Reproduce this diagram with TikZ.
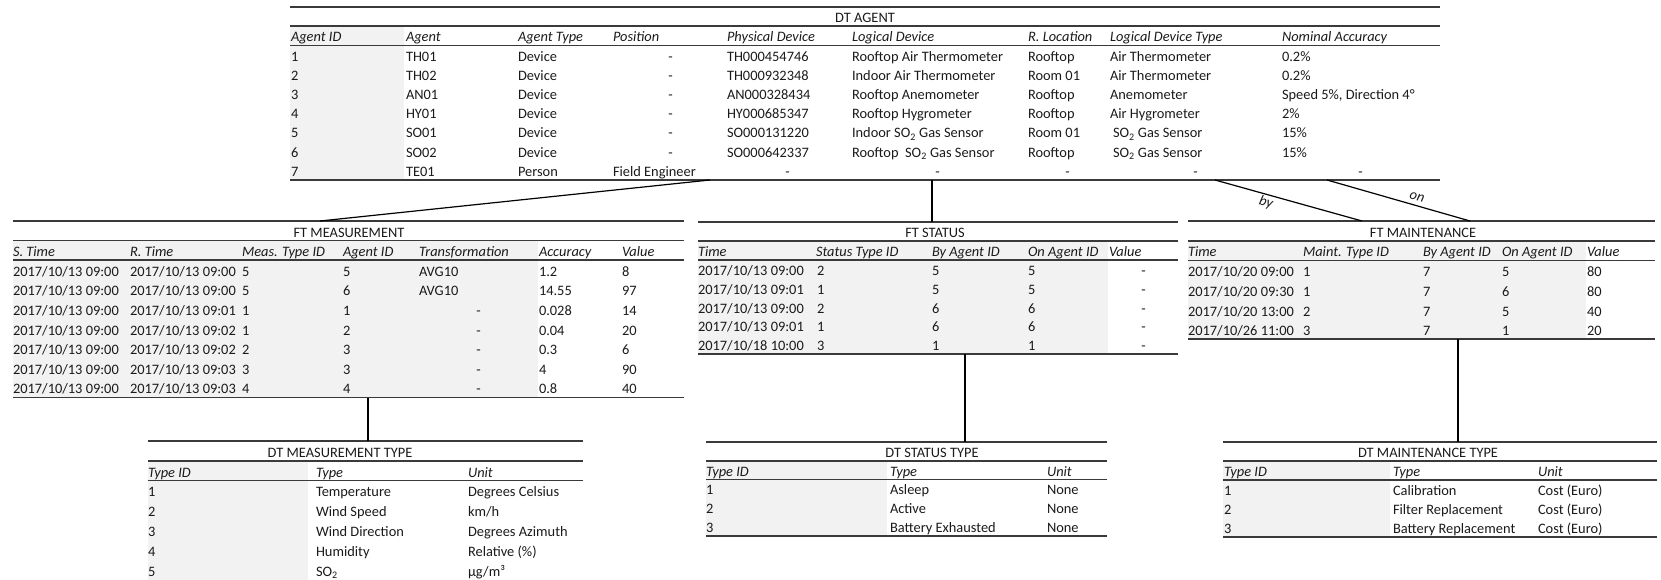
\documentclass[tikz,border=0pt]{standalone}
\usepackage{fontspec}
\setmainfont{Carlito}
\definecolor{ink}{HTML}{1A1A1A}
\definecolor{rulegray}{HTML}{3A3A3A}
\definecolor{cellgray}{HTML}{F2F2F2}

% centred dash inside a left-anchored cell
\newcommand\ctrdash{\makebox[0pt]{-}}

% table frame: name, left, right, top, row height, data rows, shaded right edge, title x, title
\newcommand\dbtable[9]{%
  \def\tbtop{#4}\def\tbh{#5}%
  \pgfmathsetmacro\tbbot{#4+(#6+2)*#5}%
  \pgfmathsetmacro\tbA{#4+#5}%
  \pgfmathsetmacro\tbB{#4+2*#5}%
  \pgfmathsetmacro\tbT{#4+#5-3.5}%
  \fill[shade] (#2,\tbA) rectangle (#7,\tbbot);
  \draw[rule] (#2,#4) -- (#3,#4);
  \draw[rule] (#2,\tbA) -- (#3,\tbA);
  \draw[rule] (#2,\tbB) -- (#3,\tbB);
  \draw[rule] (#2,\tbbot) -- (#3,\tbbot);
  \node[tabtitle] (#1-title) at (#8,\tbT) {#9};
}
% one row of cells: table name, row index (1 = header), list of x/text
\newcommand\tabrow[3]{%
  \pgfmathsetmacro\tby{\tbtop+(#2+1)*\tbh-3.5}%
  \foreach \cx/\ct [count=\ci] in {#3} {\node[cell] (#1-#2-\ci) at (\cx,\tby) {\ct};}
}
\newcommand\tabhead[2]{%
  \pgfmathsetmacro\tby{\tbtop+2*\tbh-3.5}%
  \foreach \cx/\ct [count=\ci] in {#2} {\node[headcell] (#1-h-\ci) at (\cx,\tby) {\ct};}
}

\begin{document}
\begin{tikzpicture}[x=1pt,y=-1pt,
  every node/.style={inner sep=0pt, outer sep=0pt, text=ink, font=\fontsize{14.4}{17}\selectfont},
  cell/.style={anchor=base west},
  headcell/.style={anchor=base west, font=\fontsize{14.4}{17}\selectfont\itshape},
  tabtitle/.style={anchor=base},
  rule/.style={draw=rulegray, line width=1.7pt},
  shade/.style={fill=cellgray},
  link/.style={draw=black, line width=1.2pt},
  rel/.style={font=\fontsize{14.4}{17}\selectfont\itshape}]
\useasboundingbox (0,0) rectangle (1661,580);
\clip (0,0) rectangle (1661,580);

% ---------------- DT AGENT ----------------
\dbtable{agent}{290}{1440}{7}{19.2}{7}{404}{865}{DT AGENT}
\tabhead{agent}{291/Agent ID, 406/Agent, 518/Agent Type, 613/Position, 727/Physical Device, 852/Logical Device, 1028/R. Location, 1110/Logical Device Type, 1282/Nominal Accuracy}
\tabrow{agent}{2}{291/1, 406/TH01, 518/Device, 670/\ctrdash, 727/TH000454746, 852/Rooftop Air Thermometer, 1028/Rooftop, 1110/Air Thermometer, 1282/0.2\%}
\tabrow{agent}{3}{291/2, 406/TH02, 518/Device, 670/\ctrdash, 727/TH000932348, 852/Indoor Air Thermometer, 1028/Room 01, 1110/Air Thermometer, 1282/0.2\%}
\tabrow{agent}{4}{291/3, 406/AN01, 518/Device, 670/\ctrdash, 727/AN000328434, 852/Rooftop Anemometer, 1028/Rooftop, 1110/Anemometer, 1282/{Speed 5\%, Direction 4°}}
\tabrow{agent}{5}{291/4, 406/HY01, 518/Device, 670/\ctrdash, 727/HY000685347, 852/Rooftop Hygrometer, 1028/Rooftop, 1110/Air Hygrometer, 1282/2\%}
\tabrow{agent}{6}{291/5, 406/SO01, 518/Device, 670/\ctrdash, 727/SO000131220, 852/{Indoor SO\textsubscript{2} Gas Sensor}, 1028/Room 01, 1113/{SO\textsubscript{2} Gas Sensor}, 1282/15\%}
\tabrow{agent}{7}{291/6, 406/SO02, 518/Device, 670/\ctrdash, 727/SO000642337, 852/{Rooftop~~SO\textsubscript{2} Gas Sensor}, 1028/Rooftop, 1113/{SO\textsubscript{2} Gas Sensor}, 1282/15\%}
\tabrow{agent}{8}{291/7, 406/TE01, 518/Person, 613/Field Engineer, 787/\ctrdash, 937/\ctrdash, 1067/\ctrdash, 1195/\ctrdash, 1360/\ctrdash}

% ---------------- FT MEASUREMENT ----------------
\dbtable{meas}{13}{684}{221}{19.6}{7}{538}{349}{FT MEASUREMENT}
\tabhead{meas}{13/S. Time, 130/R. Time, 242/Meas. Type ID, 343/Agent ID, 419/Transformation, 539/Accuracy, 622/Value}
\tabrow{meas}{2}{13/{2017/10/13 09:00}, 130/{2017/10/13 09:00}, 242/5, 343/5, 419/AVG10, 539/1.2, 622/8}
\tabrow{meas}{3}{13/{2017/10/13 09:00}, 130/{2017/10/13 09:00}, 242/5, 343/6, 419/AVG10, 539/14.55, 622/97}
\tabrow{meas}{4}{13/{2017/10/13 09:00}, 130/{2017/10/13 09:01}, 242/1, 343/1, 478/\ctrdash, 539/0.028, 622/14}
\tabrow{meas}{5}{13/{2017/10/13 09:00}, 130/{2017/10/13 09:02}, 242/1, 343/2, 478/\ctrdash, 539/0.04, 622/20}
\tabrow{meas}{6}{13/{2017/10/13 09:00}, 130/{2017/10/13 09:02}, 242/2, 343/3, 478/\ctrdash, 539/0.3, 622/6}
\tabrow{meas}{7}{13/{2017/10/13 09:00}, 130/{2017/10/13 09:03}, 242/3, 343/3, 478/\ctrdash, 539/4, 622/90}
\tabrow{meas}{8}{13/{2017/10/13 09:00}, 130/{2017/10/13 09:03}, 242/4, 343/4, 478/\ctrdash, 539/0.8, 622/40}

% ---------------- FT STATUS ----------------
\dbtable{status}{698}{1178}{222}{18.9}{5}{1108}{935}{FT STATUS}
\tabhead{status}{698/Time, 816/Status Type ID, 932/By Agent ID, 1028/On Agent ID, 1109/Value}
\tabrow{status}{2}{698/{2017/10/13 09:00}, 817/2, 932/5, 1028/5, 1143/\ctrdash}
\tabrow{status}{3}{698/{2017/10/13 09:01}, 817/1, 932/5, 1028/5, 1143/\ctrdash}
\tabrow{status}{4}{698/{2017/10/13 09:00}, 817/2, 932/6, 1028/6, 1143/\ctrdash}
\tabrow{status}{5}{698/{2017/10/13 09:01}, 817/1, 932/6, 1028/6, 1143/\ctrdash}
\tabrow{status}{6}{698/{2017/10/18 10:00}, 817/3, 932/1, 1028/1, 1143/\ctrdash}

% ---------------- FT MAINTENANCE ----------------
\dbtable{maint}{1188}{1655}{221}{19.7}{4}{1586}{1423}{FT MAINTENANCE}
\tabhead{maint}{1188/Time, 1303/Maint. Type ID, 1423/By Agent ID, 1502/On Agent ID, 1587/Value}
\tabrow{maint}{2}{1188/{2017/10/20 09:00}, 1303/1, 1423/7, 1502/5, 1587/80}
\tabrow{maint}{3}{1188/{2017/10/20 09:30}, 1303/1, 1423/7, 1502/6, 1587/80}
\tabrow{maint}{4}{1188/{2017/10/20 13:00}, 1303/2, 1423/7, 1502/5, 1587/40}
\tabrow{maint}{5}{1188/{2017/10/26 11:00}, 1303/3, 1423/7, 1502/1, 1587/20}

% ---------------- DT MEASUREMENT TYPE ----------------
\dbtable{mtype}{148}{583}{441}{19.8}{6}{308}{340}{DT MEASUREMENT TYPE}
\tabhead{mtype}{148/Type ID, 316/Type, 468/Unit}
\tabrow{mtype}{2}{148/1, 316/Temperature, 468/Degrees Celsius}
\tabrow{mtype}{3}{148/2, 316/Wind Speed, 468/{km/h}}
\tabrow{mtype}{4}{148/3, 316/Wind Direction, 468/Degrees Azimuth}
\tabrow{mtype}{5}{148/4, 316/Humidity, 468/Relative (\%)}
\tabrow{mtype}{6}{148/5, 316/{SO\textsubscript{2}}, 468/{µg/m³}}

% ---------------- DT STATUS TYPE ----------------
\dbtable{stype}{706}{1107}{442}{18.8}{3}{887}{932}{DT STATUS TYPE}
\tabhead{stype}{706/Type ID, 890/Type, 1047/Unit}
\tabrow{stype}{2}{706/1, 890/Asleep, 1047/None}
\tabrow{stype}{3}{706/2, 890/Active, 1047/None}
\tabrow{stype}{4}{706/3, 890/Battery Exhausted, 1047/None}

% ---------------- DT MAINTENANCE TYPE ----------------
\dbtable{mttype}{1223}{1657}{442}{19}{3}{1390}{1428}{DT MAINTENANCE TYPE}
\tabhead{mttype}{1224/Type ID, 1393/Type, 1538/Unit}
\tabrow{mttype}{2}{1224/1, 1393/Calibration, 1538/Cost (Euro)}
\tabrow{mttype}{3}{1224/2, 1393/Filter Replacement, 1538/Cost (Euro)}
\tabrow{mttype}{4}{1224/3, 1393/Battery Replacement, 1538/Cost (Euro)}

% ---------------- relations ----------------
\coordinate (agent-meas) at (710,180);
\coordinate (meas-agent) at (320,221);
\coordinate (agent-status) at (932,180);
\coordinate (status-agent) at (932,222);
\coordinate (agent-by) at (1215,180);
\coordinate (maint-by) at (1362,221);
\coordinate (agent-on) at (1327,180);
\coordinate (maint-on) at (1470,221);
\coordinate (meas-type) at (368,398);
\coordinate (mtype-top) at (368,441);
\coordinate (status-type) at (965,354);
\coordinate (stype-top) at (965,442);
\coordinate (maint-type) at (1458,339);
\coordinate (mttype-top) at (1458,442);

\draw[link] (agent-meas) -- (meas-agent);
\draw[link] (agent-status) -- (status-agent);
\draw[link] (agent-by) -- (maint-by);
\draw[link] (agent-on) -- (maint-on);
\draw[link] (meas-type) -- (mtype-top);
\draw[link] (status-type) -- (stype-top);
\draw[link] (maint-type) -- (mttype-top);

\node[rel, rotate=-15.6] (lbl-by) at (1266,203) {by};
\node[rel, rotate=-16] (lbl-on) at (1417,197) {on};
\end{tikzpicture}
\end{document}
